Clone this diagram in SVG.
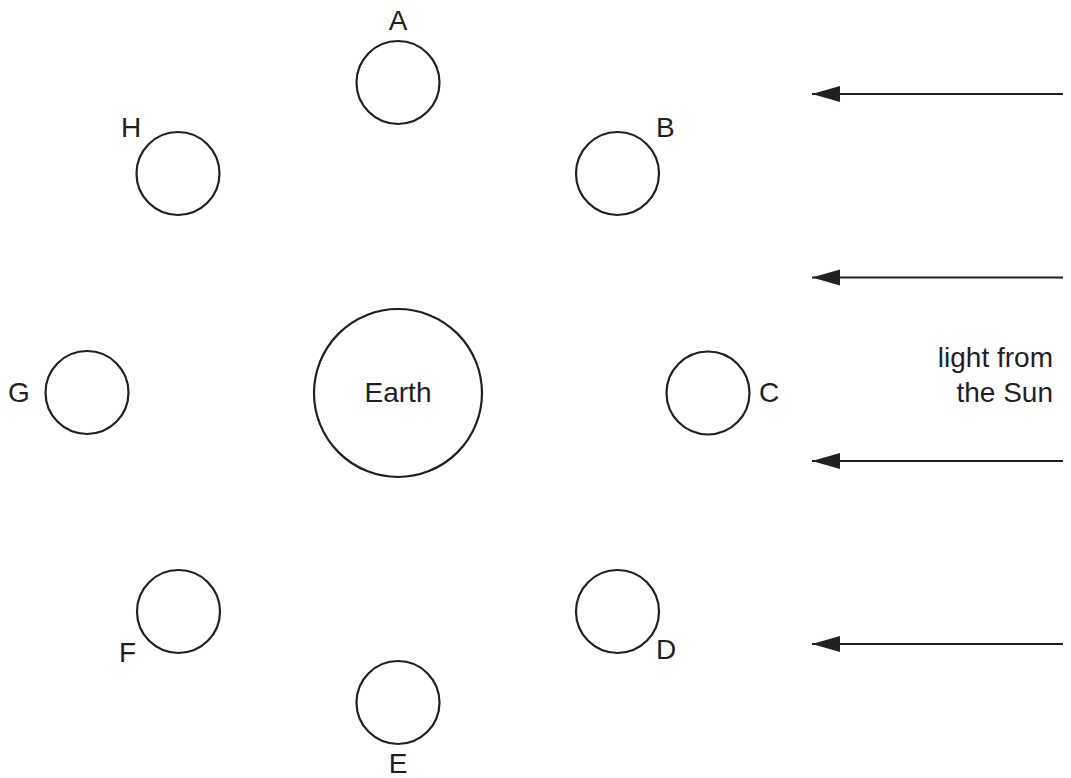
<svg xmlns="http://www.w3.org/2000/svg" width="1071" height="778" viewBox="0 0 1071 778">
<style>
.moon{fill:none;stroke:#231f20;stroke-width:2.2}
.lbl{font-family:"Liberation Sans",Arial,sans-serif;font-size:28px;fill:#231f20}
.ray{stroke:#231f20;stroke-width:2.2;fill:none;marker-end:url(#ah)}
</style>
<defs>
<marker id="ah" markerUnits="userSpaceOnUse" markerWidth="30" markerHeight="20" refX="28" refY="8" orient="auto">
<path d="M0,0 L28,8 L0,16 Z" fill="#231f20"/>
</marker>
</defs>
<rect width="1071" height="778" fill="#fff"/>
<g id="earth"><circle class="moon" cx="398" cy="393" r="84"/><text class="lbl" x="398" y="402" text-anchor="middle">Earth</text></g>
<g id="A"><circle class="moon" cx="398" cy="82.5" r="41.5"/><text class="lbl" x="398" y="30" text-anchor="middle">A</text></g>
<g id="B"><circle class="moon" cx="617.5" cy="173.5" r="41.5"/><text class="lbl" x="656" y="137">B</text></g>
<g id="C"><circle class="moon" cx="708" cy="393" r="41.5"/><text class="lbl" x="759" y="402">C</text></g>
<g id="D"><circle class="moon" cx="617.5" cy="611.5" r="41.5"/><text class="lbl" x="656" y="659">D</text></g>
<g id="E"><circle class="moon" cx="398" cy="702.5" r="41.5"/><text class="lbl" x="398" y="773" text-anchor="middle">E</text></g>
<g id="F"><circle class="moon" cx="178.5" cy="611.5" r="41.5"/><text class="lbl" x="119" y="662">F</text></g>
<g id="G"><circle class="moon" cx="87" cy="392.5" r="41.5"/><text class="lbl" x="8" y="402">G</text></g>
<g id="H"><circle class="moon" cx="178" cy="173.5" r="41.5"/><text class="lbl" x="121" y="137">H</text></g>
<g id="sunlabel"><text class="lbl" x="1053" y="367" text-anchor="end">light from</text><text class="lbl" x="1053" y="402" text-anchor="end">the Sun</text></g>
<g id="connectors">
<line class="ray" x1="1063" y1="94" x2="812" y2="94"/>
<line class="ray" x1="1063" y1="277.5" x2="812" y2="277.5"/>
<line class="ray" x1="1063" y1="461" x2="812" y2="461"/>
<line class="ray" x1="1063" y1="644" x2="812" y2="644"/>
</g>
</svg>
